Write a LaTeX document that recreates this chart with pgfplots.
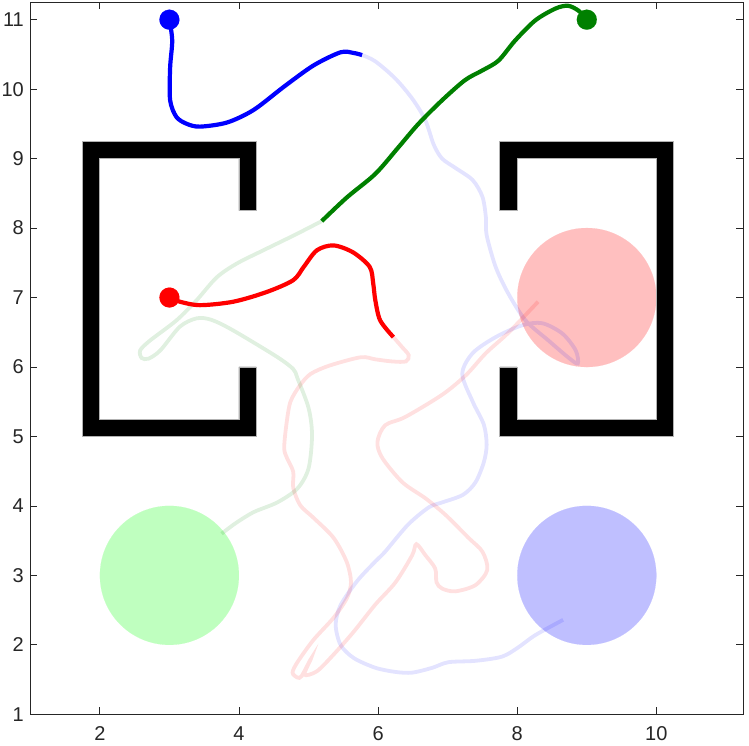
\documentclass[border=0pt]{standalone}
\usepackage{fontspec}
\setmainfont{Liberation Sans}
\usepackage{pgfplots}
\pgfplotsset{compat=1.18}
\definecolor{dgreen}{RGB}{0,128,0}
\definecolor{axgray}{RGB}{38,38,38}
\definecolor{cg}{RGB}{191,255,191}
\definecolor{cb}{RGB}{191,191,255}
\definecolor{cr}{RGB}{255,191,191}
\begin{document}
\begin{tikzpicture}
\begin{axis}[name=ax, width=713pt, height=712pt, scale only axis,
  xmin=1, xmax=11.25, ymin=1, ymax=11.25,
  xtick={2,4,6,8,10}, ytick={1,2,3,4,5,6,7,8,9,10,11},
  tick align=inside, major tick length=7pt,
  axis line style={color=axgray, line width=0.8pt},
  tick style={color=axgray, line width=0.8pt},
  ticklabel style={font=\fontsize{20}{20}\selectfont, color=axgray},
  xticklabel style={yshift=-8.5pt},
  yticklabel style={xshift=-3pt},
  /pgf/number format/assume math mode=true,
  clip marker paths=true,
  ]
% goal circles
\addplot[only marks, mark=*, mark size=69.5pt, color=cg, mark options={line width=0.1pt}] coordinates {(3,3)};
\addplot[only marks, mark=*, mark size=69.5pt, color=cb, mark options={line width=0.1pt}] coordinates {(9,3)};
\addplot[only marks, mark=*, mark size=69.5pt, color=cr, mark options={line width=0.1pt}] coordinates {(9,7)};
% walls
\addplot[fill=black, draw=gray!60, line width=0.8pt] coordinates {(4.25,9.25)(1.75,9.25)(1.75,5)(4.25,5)(4.25,6)(4,6)(4,5.25)(2,5.25)(2,9)(4,9)(4,8.25)(4.25,8.25)} -- cycle;
\addplot[fill=black, draw=gray!60, line width=0.8pt] coordinates {(7.75,9.25)(10.25,9.25)(10.25,5)(7.75,5)(7.75,6)(8,6)(8,5.25)(10,5.25)(10,9)(8,9)(8,8.25)(7.75,8.25)} -- cycle;
% faded future trajectories
\addplot[smooth, blue, opacity=0.11, line width=3.8pt] coordinates {
(5.77,10.49)(5.96,10.4)(6.25,10.15)(6.5,9.85)(6.68,9.55)(6.8,9.2)(6.92,9.0)(7.12,8.86)(7.36,8.69)(7.5,8.45)(7.55,8.15)(7.56,7.9)(7.69,7.44)(7.87,7.06)(8.12,6.67)(8.45,6.38)(8.73,6.14)(8.87,6.05)(8.84,6.24)(8.65,6.48)(8.36,6.63)(8.07,6.6)(7.69,6.43)(7.36,6.2)(7.21,5.9)(7.36,5.5)(7.52,5.17)(7.56,4.88)(7.52,4.63)(7.4,4.34)(7.22,4.16)(6.92,4.05)(6.73,3.98)(6.43,3.73)(6.1,3.34)(5.96,3.2)(5.7,2.92)(5.46,2.57)(5.39,2.29)(5.46,2.0)(5.65,1.81)(5.96,1.67)(6.25,1.61)(6.49,1.6)(6.78,1.67)(7.01,1.75)(7.4,1.77)(7.78,1.83)(8.01,1.96)(8.26,2.14)(8.66,2.36)};
\addplot[smooth, red, opacity=0.12, line width=3.8pt] coordinates {
(6.22,6.43)(6.35,6.28)(6.44,6.17)(6.4,6.08)(6.2,6.08)(5.96,6.11)(5.75,6.14)(5.3,6.02)(5.03,5.9)(4.88,5.74)(4.74,5.5)(4.68,5.16)(4.65,4.83)(4.69,4.69)(4.78,4.49)(4.78,4.26)(4.88,4.01)(5.07,3.83)(5.36,3.54)(5.55,3.19)(5.61,2.9)(5.55,2.67)(5.36,2.39)(5.07,2.07)(4.84,1.75)(4.77,1.6)(4.84,1.53)(4.9,1.55)(5.03,1.79)(4.94,1.57)(5.12,1.62)(5.36,1.86)(5.65,2.19)(5.96,2.58)(6.25,2.9)(6.49,3.29)(6.55,3.45)(6.68,3.29)(6.82,3.1)(6.84,2.9)(6.92,2.81)(7.11,2.77)(7.4,2.86)(7.57,3.08)(7.5,3.34)(7.3,3.54)(6.97,3.87)(6.68,4.11)(6.35,4.34)(6.06,4.69)(5.99,4.92)(6.1,5.16)(6.39,5.28)(6.92,5.6)(7.26,5.88)(7.55,6.2)(7.87,6.49)(8.3,6.94)};
\addplot[smooth, dgreen, opacity=0.12, line width=3.8pt] coordinates {
(5.19,8.1)(4.8,7.9)(4.35,7.68)(3.97,7.49)(3.68,7.29)(3.39,6.96)(3.1,6.67)(2.72,6.38)(2.58,6.24)(2.6,6.13)(2.7,6.12)(2.87,6.24)(3.15,6.58)(3.39,6.7)(3.6,6.68)(3.91,6.53)(4.54,6.15)(4.78,5.97)(4.84,5.84)(5.0,5.41)(5.05,5.02)(5.0,4.54)(4.84,4.25)(4.55,4.05)(4.21,3.91)(3.95,3.75)(3.75,3.6)};
% executed trajectories
\addplot[smooth, blue, line width=4.2pt] coordinates {
(3.0,11.0)(3.04,10.7)(3.01,10.31)(3.01,9.84)(3.1,9.6)(3.25,9.5)(3.44,9.46)(3.83,9.52)(4.21,9.7)(4.64,10.03)(5.07,10.34)(5.46,10.53)(5.65,10.52)(5.77,10.49)};
\addplot[smooth, red, line width=4.2pt] coordinates {
(3.0,7.0)(3.15,6.94)(3.44,6.89)(3.92,6.94)(4.4,7.08)(4.78,7.25)(4.93,7.44)(5.12,7.68)(5.36,7.75)(5.64,7.65)(5.88,7.44)(5.93,7.2)(5.96,6.96)(6.03,6.67)(6.22,6.43)};
\addplot[smooth, dgreen, line width=4.2pt] coordinates {
(9.01,11.0)(8.88,11.13)(8.73,11.2)(8.55,11.16)(8.26,10.99)(7.97,10.7)(7.73,10.41)(7.5,10.27)(7.25,10.13)(6.92,9.84)(6.58,9.5)(6.29,9.16)(5.96,8.78)(5.55,8.44)(5.19,8.1)};
% start markers
\addplot[only marks, mark=*, mark size=10pt, color=blue, mark options={line width=0.1pt}] coordinates {(3,11)};
\addplot[only marks, mark=*, mark size=10pt, color=red, mark options={line width=0.1pt}] coordinates {(3,7)};
\addplot[only marks, mark=*, mark size=10pt, color=dgreen, mark options={line width=0.1pt}] coordinates {(9,11)};
\end{axis}
\pgfresetboundingbox
\useasboundingbox ([shift={(-30.3pt,-30.7pt)}]ax.south west) rectangle ([shift={(5.7pt,2.3pt)}]ax.north east);
\end{tikzpicture}
\end{document}
